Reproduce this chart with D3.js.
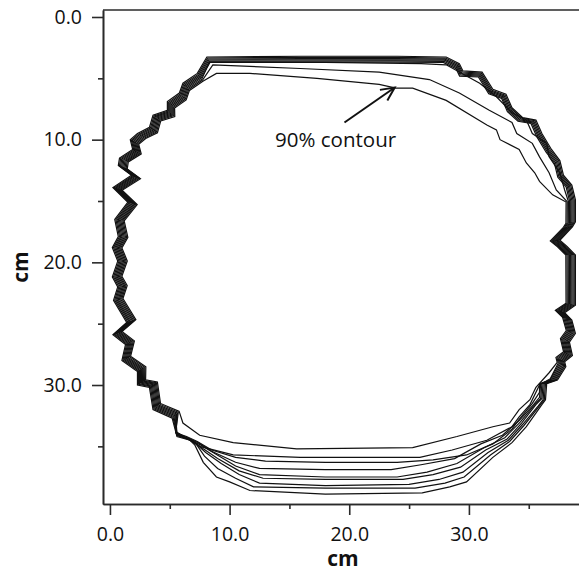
<!DOCTYPE html>
<html><head><meta charset="utf-8">
<script src="https://cdn.jsdelivr.net/npm/d3@7"></script>
<style>
body{margin:0;background:#fff;}
svg{display:block;}
text{font-family:"Open Sans",sans-serif;fill:#111;}
</style>
</head><body><svg id="chart" width="579" height="572"></svg>
<script>
// ---- data (cm) ----
const contourNames = ["10%","20%","30%","40%","50%","60%","70%","80%","90%"];
// bundle spread of the shared outline (cm, inward)
const insets = [0, 0.10, 0.20, 0.30, 0.40, 0.50, 0.60, 0.70, 0.80];

// shared traced outline: left arc (bottom-left -> top-left)
const leftArc = [[5.2,32.7],[3.6,32.0],[3.3,30.2],[2.3,30.0],[2.3,28.9],[1.0,28.0],[1.3,26.7],[0.25,25.9],
  [1.4,24.9],[0.3,23.1],[0.65,22.0],[0.2,21.2],[0.65,19.9],[0.2,18.8],[0.7,17.9],[0.4,16.5],[1.5,15.1],
  [0.25,13.9],[1.8,12.9],[0.7,12.1],[0.8,11.5],[1.9,10.8],[1.7,10.0],[2.3,9.5],[3.3,9.0],[3.6,8.0],
  [4.8,7.6],[4.8,6.9],[5.8,6.2],[6.1,5.4],[7.3,4.6]];
// shared top edge and top-right staircase
const outerTop = [[8.1,3.26],[16.0,3.2],[24.0,3.2],[28.1,3.26],[29.2,3.8],[29.5,4.4],[31.1,4.5],[32.0,5.9],
  [33.1,6.3],[33.6,7.4],[34.5,8.2],[35.6,8.4],[36.1,9.5],[36.9,10.8],[37.6,11.7],[37.9,12.9],[38.6,13.7],[38.9,14.9]];
// shared right side
const rightSide = [[38.9,14.9],[38.9,16.7],[38.65,17.1],[37.6,18.2],[38.2,18.7],[38.9,19.4],[38.9,23.5],
  [38.0,24.1],[38.6,24.7],[38.9,25.8],[38.4,26.5],[38.65,27.6],[38.0,28.1],[38.1,28.5]];

// own top paths for the inner contours (70%, 80%, 90%)
const top70 = [[8.3,3.7],[18.0,3.7],[26.0,3.8],[28.1,3.9],[30.9,5.4],[32.3,6.5],[33.6,7.8],[34.8,8.4],
  [35.3,9.5],[36.5,10.3],[36.7,11.4],[37.6,12.7],[38.0,14.1]];
const top80 = [[8.6,3.9],[15.9,4.2],[22.5,4.5],[26.7,5.1],[29.2,6.2],[31.7,7.6],[33.6,8.6],[34.0,9.5],
  [35.3,10.3],[35.9,11.4],[36.7,12.7],[37.3,14.1]];
const top90 = [[8.9,4.6],[11.7,4.6],[17.3,5.0],[22.5,5.5],[23.9,5.8],[25.3,5.8],[28.1,6.8],[31.5,8.8],
  [32.3,9.2],[32.6,10.0],[34.2,10.8],[34.8,11.9],[35.5,12.7],[35.9,13.4],[37.0,14.5]];
const ownTops = [null,null,null,null,null,null,top70,top80,top90];

// own bottom paths (right -> left)
const bottom10 = [[37.4,29.6],[36.5,29.9],[36.4,31.2],[36.1,31.6],[34.8,33.4],[33.6,34.7],[32.0,35.9],[29.8,37.9],
  [28.4,38.3],[26.1,38.8],[18.0,38.9],[11.7,38.6],[10.0,37.9],[8.9,37.5],[7.8,36.3],[7.1,34.9],[6.7,34.5],[5.6,34.2]];
const bottom20 = [[37.3,29.6],[36.4,29.9],[36.3,31.2],[35.9,31.7],[34.6,33.3],[33.4,34.6],[31.8,35.7],[29.6,37.5],
  [28.0,38.0],[25.5,38.4],[18.0,38.4],[12.0,38.3],[10.5,37.6],[9.0,36.8],[7.9,35.8],[7.2,34.8],[6.5,34.4],[5.6,34.1]];
const bottom30 = [[37.2,29.6],[36.3,29.9],[36.2,31.2],[35.8,31.7],[34.5,33.2],[33.3,34.5],[31.6,35.5],[29.5,37.1],
  [27.5,37.7],[25.0,38.1],[18.0,38.2],[12.5,38.0],[10.8,37.3],[9.3,36.4],[8.0,35.5],[7.0,34.6],[5.6,34.1]];
const bottom40 = [[37.1,29.6],[36.2,29.9],[36.1,31.1],[35.6,31.6],[34.4,33.1],[33.2,34.4],[31.4,35.3],[29.3,36.7],
  [27.0,37.3],[24.5,37.7],[18.0,37.7],[12.8,37.6],[10.8,37.0],[9.0,36.0],[7.8,35.2],[6.8,34.5],[5.6,34.0]];
const bottom50 = [[37.0,29.6],[36.1,29.9],[36.0,31.1],[35.5,31.6],[34.3,33.0],[33.0,34.3],[31.3,35.1],[29.0,36.4],
  [26.5,37.1],[24.0,37.5],[18.0,37.5],[12.5,37.3],[10.5,36.6],[8.8,35.6],[7.6,34.9],[6.6,34.4],[5.6,34.0]];
const bottom60 = [[36.9,29.6],[36.0,29.9],[35.9,31.0],[35.4,31.6],[34.2,32.9],[32.8,34.1],[31.0,34.8],[28.8,36.0],
  [26.0,36.5],[23.5,36.9],[18.0,36.9],[12.5,36.8],[10.5,36.3],[8.5,35.4],[7.4,34.7],[6.5,34.3],[5.5,33.9]];
const bottom70 = [[36.8,29.6],[35.9,29.9],[35.9,30.6],[35.3,31.5],[34.2,32.8],[33.6,33.6],[32.0,34.8],[29.8,35.7],
  [27.0,36.1],[24.0,36.3],[18.0,36.3],[13.0,36.2],[10.5,35.9],[8.5,35.3],[7.3,34.6],[6.4,34.2],[5.5,33.9]];
const bottom80 = [[36.8,29.5],[35.9,30.0],[35.1,31.6],[34.2,32.6],[33.6,33.4],[31.5,34.5],[28.6,35.3],[25.9,35.9],
  [18.0,35.9],[15.9,35.9],[10.3,35.7],[7.5,35.0],[6.7,34.5],[5.5,33.8]];
const bottom90 = [[36.7,29.0],[35.6,30.2],[35.1,31.2],[34.2,32.0],[33.4,33.1],[32.0,33.4],[29.0,34.2],[25.3,35.1],
  [15.6,35.2],[10.3,34.7],[7.5,34.1],[6.1,33.1]];
const bottoms = [bottom10,bottom20,bottom30,bottom40,bottom50,bottom60,bottom70,bottom80,bottom90];

const majorTicks = [0,10,20,30];
const minorTicks = [5,15,25,35];
const axisTitle = "cm";
const annotText = "90% contour";
const annotLabelPos = [13.8,10.6];
const arrowTail = [19.6,8.6];
const arrowTip = [23.8,5.75];
const bundleCenter = [19.3,19.5];

// ---- chart ----
const svg = d3.select("#chart");
const x = d3.scaleLinear().domain([-0.58,39.2]).range([103,579]);
const y = d3.scaleLinear().domain([-0.57,39.7]).range([10,504]);
const axisColor = "#2a2a2a";

function shiftIn(p,d){
  const vx = bundleCenter[0]-p[0], vy = bundleCenter[1]-p[1];
  const L = Math.hypot(vx,vy);
  return [p[0]+d*vx/L, p[1]+d*vy/L];
}
const contours = contourNames.map((name,i)=>{
  const d = insets[i];
  const pts = [].concat(
    leftArc.map(p=>shiftIn(p,d)),
    ownTops[i] ? ownTops[i] : outerTop.map(p=>shiftIn(p,d)),
    rightSide.map(p=>shiftIn(p,d)),
    bottoms[i]
  );
  return {name, pts};
});

const line = d3.line().x(d=>x(d[0])).y(d=>y(d[1])).curve(d3.curveLinearClosed);
svg.append("defs").append("clipPath").attr("id","clip")
  .append("rect").attr("x",103).attr("y",10).attr("width",476).attr("height",494);
svg.append("g").attr("clip-path","url(#clip)")
  .selectAll("path").data(contours).join("path")
  .attr("d",d=>line(d.pts))
  .attr("fill","none").attr("stroke","#111").attr("stroke-width",1.2)
  .attr("stroke-linejoin","miter");

// axes
function styleAxis(g){
  g.selectAll("path.domain").attr("stroke",axisColor).attr("stroke-width",1.6);
  g.selectAll(".tick line").attr("stroke",axisColor).attr("stroke-width",1.6);
  g.selectAll(".tick text").attr("font-family",'"Open Sans",sans-serif').attr("font-size",19.5).attr("fill","#111");
}
const fmt = d3.format(".1f");
const xMajor = svg.append("g").attr("transform","translate(0,504)")
  .call(d3.axisBottom(x).tickValues(majorTicks).tickFormat(fmt).tickSizeInner(11).tickSizeOuter(0).tickPadding(12));
styleAxis(xMajor);
const xMinor = svg.append("g").attr("transform","translate(0,504)")
  .call(d3.axisBottom(x).tickValues(minorTicks).tickFormat("").tickSizeInner(5).tickSizeOuter(0));
styleAxis(xMinor);
const yMajor = svg.append("g").attr("transform","translate(103,0)")
  .call(d3.axisLeft(y).tickValues(majorTicks).tickFormat(fmt).tickSizeInner(11).tickSizeOuter(0).tickPadding(10));
styleAxis(yMajor);
const yMinor = svg.append("g").attr("transform","translate(103,0)")
  .call(d3.axisLeft(y).tickValues(minorTicks).tickFormat("").tickSizeInner(5).tickSizeOuter(0));
styleAxis(yMinor);
// top frame line
svg.append("line").attr("x1",x.range()[0]).attr("x2",x.range()[1]).attr("y1",y.range()[0]).attr("y2",y.range()[0])
  .attr("stroke",axisColor).attr("stroke-width",1.6);

// axis titles
svg.append("text").attr("x",343).attr("y",566).attr("text-anchor","middle")
  .attr("font-weight","bold").attr("font-size",21).text(axisTitle);
svg.append("text").attr("transform","translate(28,267) rotate(-90)").attr("text-anchor","middle")
  .attr("font-weight","bold").attr("font-size",21).text(axisTitle);

// annotation
svg.append("text").attr("x",x(annotLabelPos[0])).attr("y",y(annotLabelPos[1]))
  .attr("font-size",20.5).text(annotText);
const tx = x(arrowTail[0]), ty = y(arrowTail[1]), hx = x(arrowTip[0]), hy = y(arrowTip[1]);
svg.append("line").attr("x1",tx).attr("y1",ty).attr("x2",hx).attr("y2",hy)
  .attr("stroke","#111").attr("stroke-width",2);
const ang = Math.atan2(hy-ty,hx-tx), al = 15, aw = 0.45;
const a1 = [hx-al*Math.cos(ang-aw), hy-al*Math.sin(ang-aw)];
const a2 = [hx-al*Math.cos(ang+aw), hy-al*Math.sin(ang+aw)];
svg.append("path").attr("d",`M${a1[0]},${a1[1]}L${hx},${hy}L${a2[0]},${a2[1]}`)
  .attr("fill","none").attr("stroke","#111").attr("stroke-width",2);
</script>
</body></html>
